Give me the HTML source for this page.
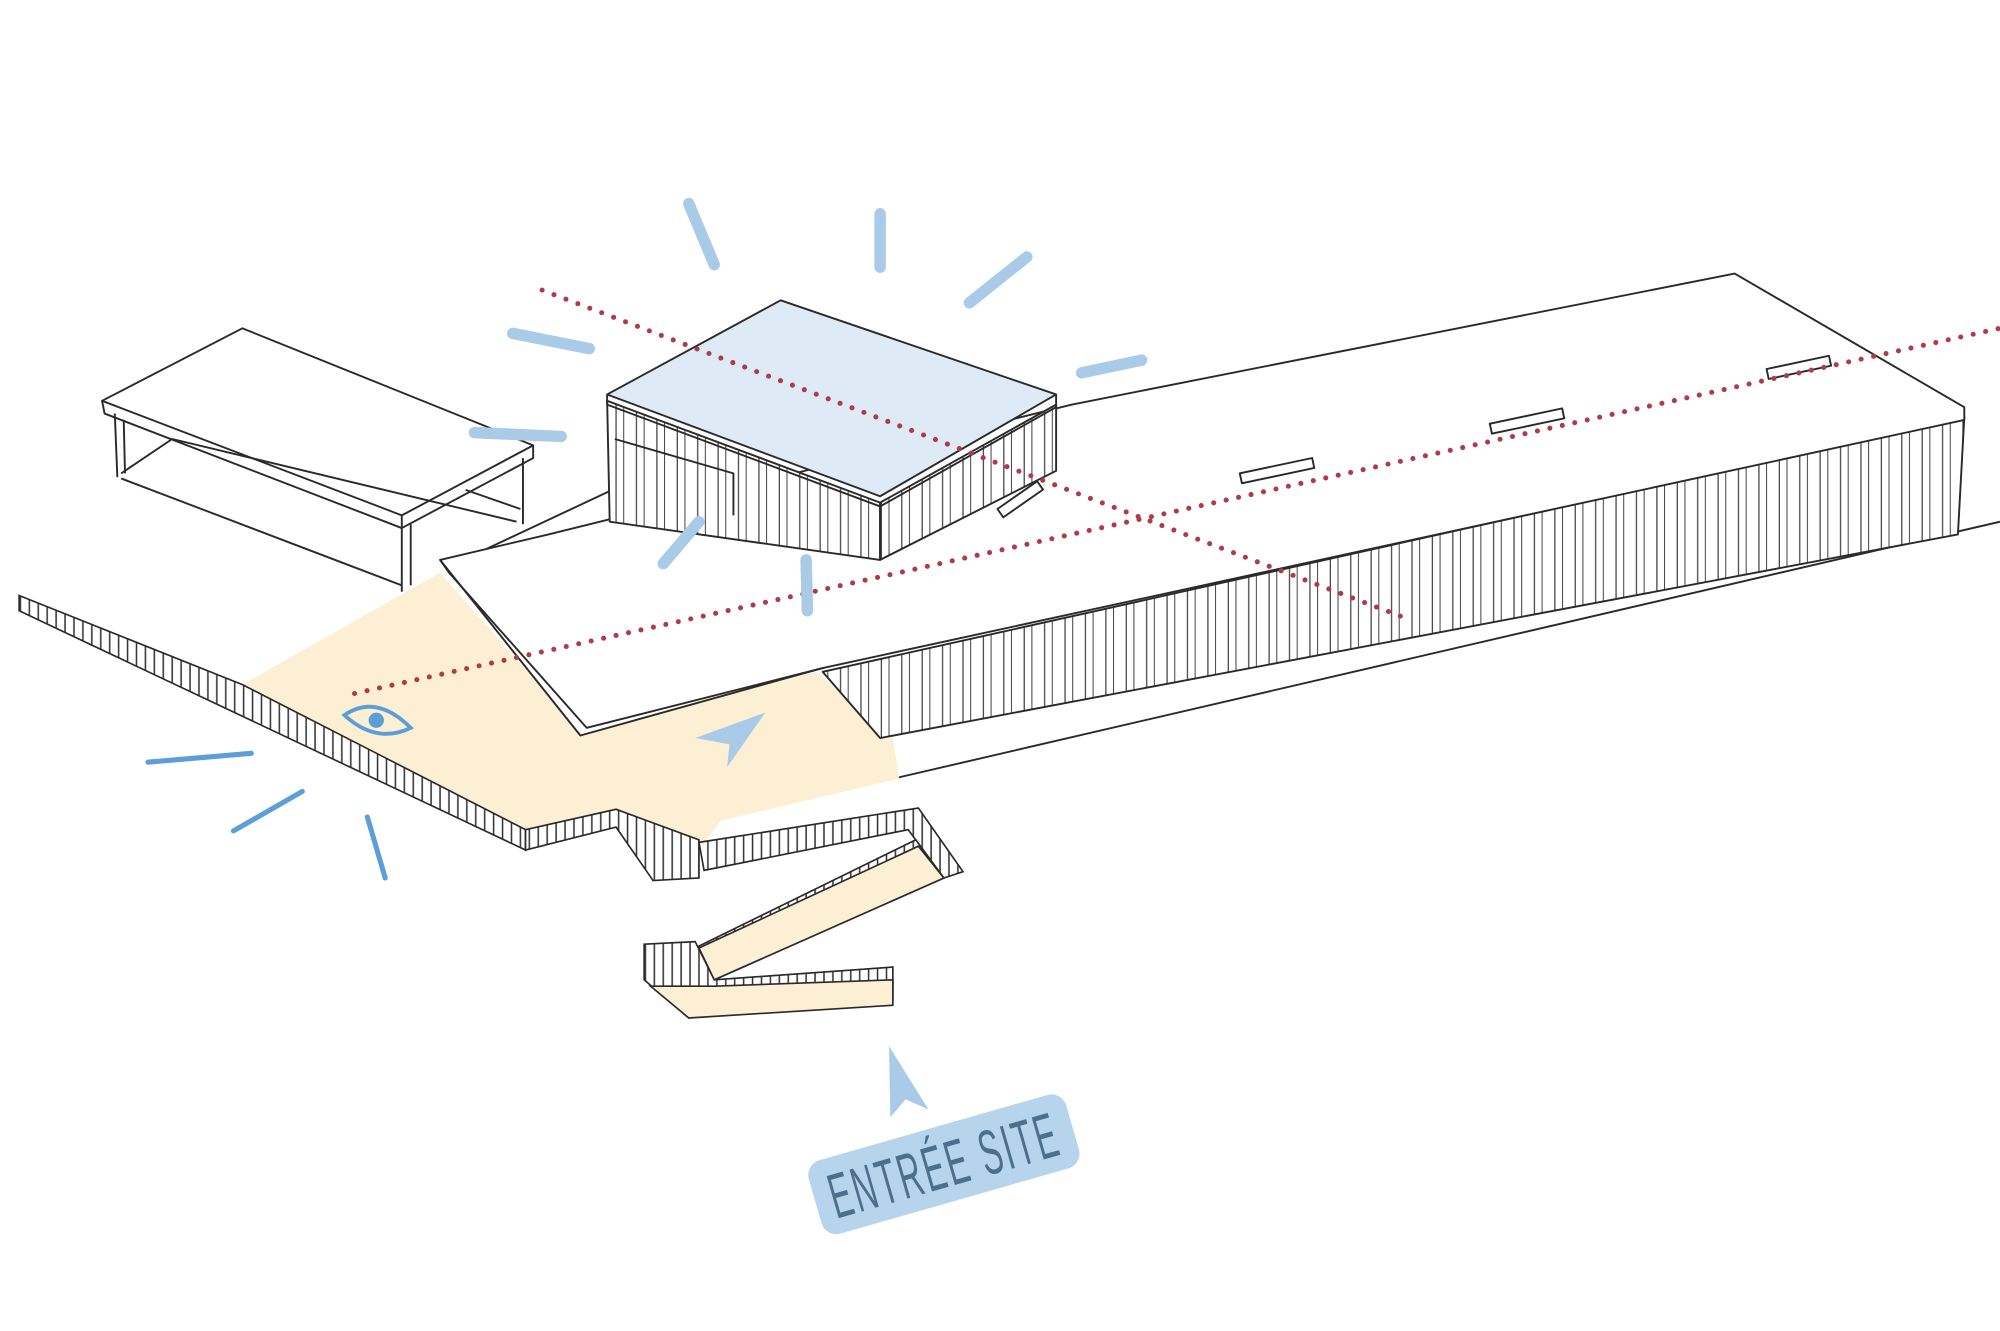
<!DOCTYPE html>
<html><head><meta charset="utf-8"><style>
html,body{margin:0;padding:0;background:#fff;}
svg{display:block;}
</style></head><body>
<svg width="2000" height="1331" viewBox="0 0 1568 1046" preserveAspectRatio="none" xmlns="http://www.w3.org/2000/svg">
<defs>
<pattern id="vl" width="7" height="20" patternUnits="userSpaceOnUse">
<rect width="7" height="20" fill="#fff"/>
<line x1="2" y1="0" x2="2" y2="20" stroke="#333" stroke-width="1.2"/>
</pattern>
<pattern id="vl2" width="16" height="20" patternUnits="userSpaceOnUse">
<rect width="16" height="20" fill="#fff"/>
<line x1="3" y1="0" x2="3" y2="20" stroke="#444" stroke-width="1"/>
<line x1="9" y1="0" x2="9" y2="20" stroke="#444" stroke-width="0.8"/>
</pattern>
</defs>
<rect width="1568" height="1046" fill="#fff"/>

<g fill="none" stroke="#2a2a2a" stroke-width="1.5" stroke-linejoin="round">
<line x1="700" y1="612" x2="1568" y2="410"/>
<line x1="380" y1="432" x2="480" y2="385"/>

<polygon points="80,315 190,258 418,350 315,405" fill="#fff"/>
<polyline points="80,315 82,325 315,415 418,360 418,350"/>
<line x1="315" y1="405" x2="315" y2="465"/>
<line x1="322" y1="412" x2="322" y2="460"/>
<line x1="90" y1="325" x2="92" y2="375"/>
<line x1="97" y1="330" x2="98" y2="372"/>
<line x1="410" y1="360" x2="410" y2="412"/>
<polyline points="95,372 135,345 405,410"/>
<polyline points="95,376 315,460"/>
<line x1="365" y1="385" x2="408" y2="400"/>
</g>

<polygon points="190,538 345,450 455,575 640,528 700,580 705,612 565,645 548,668 483,648 412,668 185,548" fill="#fdefd3"/>

<polygon points="15,468 190,538 412,652 412,668 15,480" fill="url(#vl)" stroke="#2a2a2a" stroke-width="1.3"/>
<polygon points="412,652 483,636 548,660 548,690 512,692 483,650 412,668" fill="url(#vl)" stroke="#2a2a2a" stroke-width="1.3"/>

<g stroke="#2a2a2a" stroke-width="1.3">
<polygon points="548,662 720,635 755,685 740,690 712,652 552,684" fill="url(#vl)"/>
<polygon points="740,690 560,770 545,745 718,660" fill="url(#vl)"/>
<polygon points="505,742 545,740 560,770 700,760 700,785 545,798 540,800 505,770" fill="url(#vl)"/>
<polygon points="560,770 740,690 720,665 548,745" fill="#fdefd3"/>
<polygon points="510,775 540,800 700,790 700,770 560,775" fill="#fdefd3"/>
<line x1="560" y1="770" x2="700" y2="760" stroke-width="1"/>
</g>

<g stroke="#2a2a2a" stroke-width="1.5" stroke-linejoin="round">
<polygon points="1540,328 1535,420 690,580 645,528" fill="url(#vl2)"/>
<polygon points="345,440 430,420 840,318 1360,215 1540,320 1540,330 645,525 455,578" fill="#fff"/>
<polyline points="345,440 352,450 460,572 645,525" fill="none"/>
<rect x="972" y="372" width="58" height="8" transform="rotate(-12 972 372)" fill="#fff"/>
<rect x="1168" y="333" width="58" height="8" transform="rotate(-12 1168 333)" fill="#fff"/>
<rect x="1385" y="290" width="50" height="8" transform="rotate(-12 1385 290)" fill="#fff"/>
<rect x="782" y="400" width="38" height="8" transform="rotate(-35 782 400)" fill="#fff"/>
</g>

<g stroke="#2a2a2a" stroke-width="1.5" stroke-linejoin="round">
<polygon points="476,315 690,395 690,440 478,410" fill="url(#vl2)"/>
<polygon points="690,395 828,318 828,370 690,440" fill="url(#vl2)"/>
<polygon points="476,310 612,236 828,310 690,390" fill="#deebf7"/>
<polyline points="476,310 476,318 690,398 828,320 828,310" fill="none"/>
<polyline points="482,345 575,372 575,405" fill="none"/>
</g>

<g stroke="#b03a48" stroke-width="4" stroke-linecap="round" stroke-dasharray="0 10" fill="none">
<line x1="425" y1="228" x2="1100" y2="485"/>
<line x1="278" y1="545" x2="1568" y2="258"/>
</g>

<g stroke="#a9cbe8" stroke-width="9" stroke-linecap="round">
<line x1="540" y1="160" x2="560" y2="208"/>
<line x1="690" y1="168" x2="690" y2="210"/>
<line x1="760" y1="238" x2="805" y2="202"/>
<line x1="848" y1="293" x2="895" y2="283"/>
<line x1="402" y1="262" x2="462" y2="274"/>
<line x1="372" y1="340" x2="440" y2="343"/>
<line x1="520" y1="443" x2="548" y2="410"/>
<line x1="632" y1="440" x2="633" y2="480"/>
</g>
<g stroke="#5c9fd8" stroke-width="4" stroke-linecap="round">
<line x1="116" y1="599" x2="197" y2="592"/>
<line x1="183" y1="653" x2="237" y2="622"/>
<line x1="288" y1="642" x2="302" y2="690"/>
</g>

<path d="M270,562 Q295,545 322,572 Q295,585 270,562 Z" fill="none" stroke="#5c9fd8" stroke-width="3"/>
<circle cx="295" cy="566" r="6" fill="#5c9fd8"/>

<polygon points="545,580 600,560 570,603 572,585" fill="#a9cbe8"/>
<polygon points="697,822 728,872 710,864 698,878" fill="#a9cbe8"/>

<g transform="translate(740,915) rotate(-16)">
<rect x="-105" y="-30" width="210" height="60" rx="12" fill="#b7d4ed"/>
<text x="0" y="18" text-anchor="middle" font-family="Liberation Sans, sans-serif" font-size="50" fill="#4c6f8c" transform="scale(0.5,1)" letter-spacing="4">ENTRÉE SITE</text>
</g>
</svg>
</body></html>
